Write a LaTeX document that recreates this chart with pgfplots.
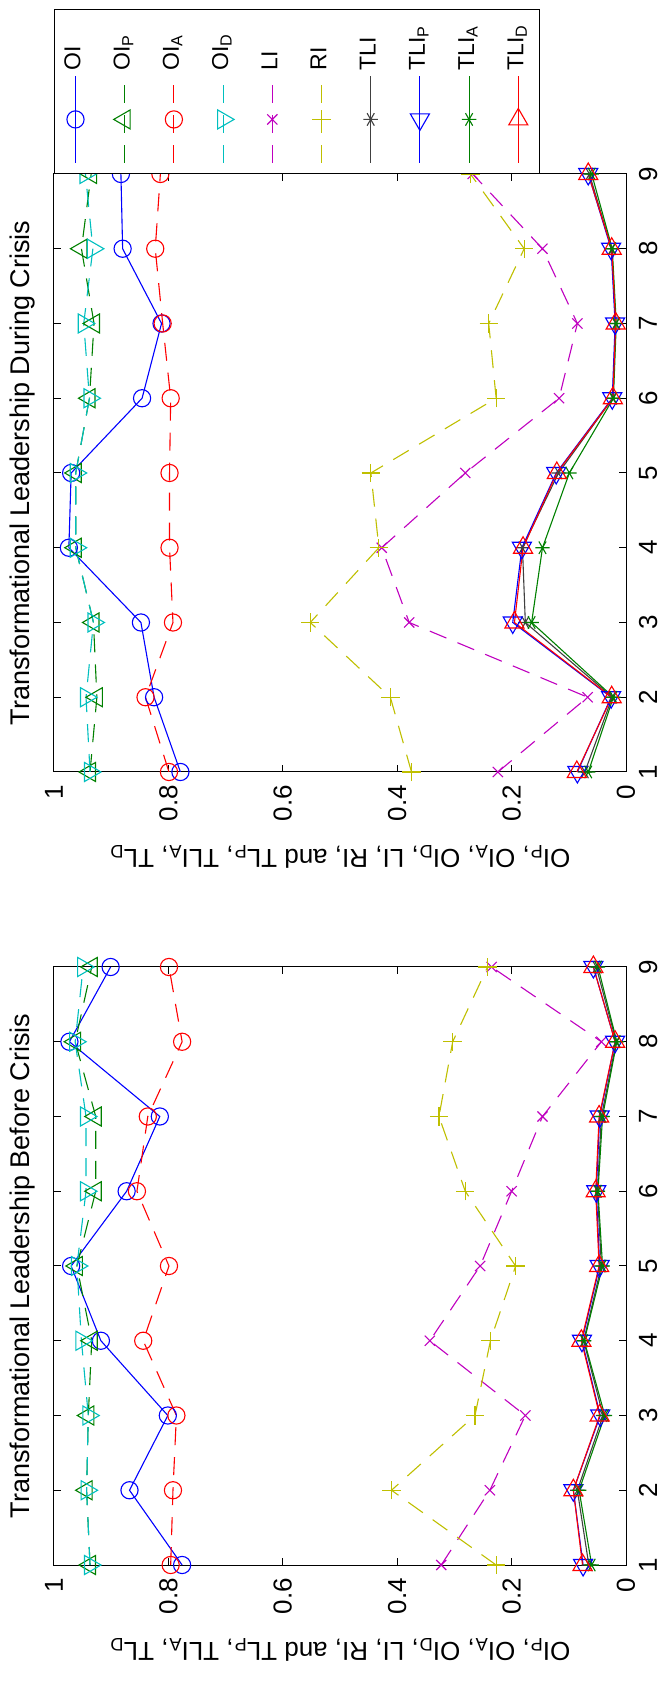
\documentclass[border=0pt]{standalone}
\usepackage{fontspec}
\setmainfont{Liberation Sans}
\usepackage{graphicx}
\usepackage{pgfplots}
\usepackage{pgfplotstable}
\pgfplotsset{compat=1.18}

\definecolor{mBlue}{rgb}{0,0,1}
\definecolor{mGreen}{rgb}{0,0.5,0}
\definecolor{mRed}{rgb}{1,0,0}
\definecolor{mCyan}{rgb}{0,0.75,0.75}
\definecolor{mMag}{rgb}{0.75,0,0.75}
\definecolor{mYel}{rgb}{0.75,0.75,0}
\definecolor{mGray}{rgb}{0.25,0.25,0.25}

% before crisis
\pgfplotstableread{
idx OI    OIP   OIA   OID   LI    RI    TLI   TLIP  TLIA  TLID
1   0.776 0.937 0.796 0.937 0.323 0.227 0.065 0.075 0.060 0.076
2   0.868 0.943 0.792 0.943 0.238 0.410 0.085 0.092 0.082 0.092
3   0.801 0.940 0.786 0.940 0.176 0.264 0.040 0.045 0.037 0.046
4   0.918 0.934 0.844 0.952 0.343 0.237 0.074 0.077 0.073 0.078
5   0.970 0.960 0.799 0.960 0.255 0.193 0.043 0.046 0.041 0.047
6   0.873 0.927 0.855 0.944 0.200 0.281 0.050 0.052 0.049 0.053
7   0.815 0.927 0.836 0.944 0.146 0.327 0.043 0.046 0.041 0.047
8   0.973 0.963 0.776 0.963 0.043 0.303 0.017 0.019 0.016 0.019
9   0.901 0.934 0.799 0.949 0.235 0.242 0.052 0.057 0.049 0.057
}\before

% during crisis
\pgfplotstableread{
idx OI    OIP   OIA   OID   LI    RI    TLI   TLIP  TLIA  TLID
1   0.779 0.937 0.799 0.937 0.224 0.375 0.072 0.085 0.066 0.086
2   0.825 0.925 0.840 0.944 0.067 0.412 0.024 0.026 0.022 0.025
3   0.848 0.931 0.792 0.931 0.379 0.552 0.176 0.198 0.165 0.195
4   0.974 0.962 0.798 0.962 0.427 0.432 0.181 0.182 0.146 0.180
5   0.970 0.962 0.798 0.962 0.281 0.446 0.118 0.122 0.099 0.121
6   0.846 0.938 0.796 0.938 0.117 0.227 0.023 0.024 0.022 0.023
7   0.812 0.930 0.810 0.948 0.085 0.240 0.018 0.019 0.017 0.018
8   0.880 0.952 0.823 0.932 0.146 0.178 0.025 0.026 0.024 0.025
9   0.883 0.935 0.814 0.945 0.268 0.272 0.064 0.066 0.060 0.066
}\during

\pgfplotsset{
  panel/.style={
    scale only axis, width=299pt, height=286pt,
    xmin=1, xmax=9, ymin=0, ymax=1,
    xtick={1,2,3,4,5,6,7,8,9}, xticklabels={1,2,3,4,5,6,7,8,9},
    ytick={0,0.2,0.4,0.6,0.8,1}, yticklabels={0,0.2,0.4,0.6,0.8,1},
    tick align=inside, tick pos=both, major tick length=3.5pt,
    axis line style={black, line width=0.5pt},
    every tick/.style={black, line width=0.5pt},
    tick label style={font=\fontsize{13}{15}\selectfont},
    xticklabel style={yshift=-3pt},
    yticklabel style={xshift=-3pt},
    title style={font=\fontsize{13.5}{16}\selectfont, at={(axis description cs:0.5,1)}, anchor=base, yshift=6pt},
    ylabel style={font=\fontsize{13}{15}\selectfont, at={(axis description cs:-0.142,0.5)}, anchor=center},
    ylabel={OI\textsubscript{P}, OI\textsubscript{A}, OI\textsubscript{D}, LI, RI, and TL\textsubscript{P}, TLI\textsubscript{A}, TL\textsubscript{D}},
    every axis plot/.append style={line width=0.55pt},
    legend image code/.code={\draw[mark repeat=2,mark phase=2] plot coordinates {(0pt,0pt) (21.75pt,0pt) (43.5pt,0pt)};},
  },
  dsh/.style={dash pattern=on 9pt off 6pt},
  sOI/.style={mBlue, solid, mark=o, mark size=4.3pt, mark options={solid}},
  sOIP/.style={mGreen, dsh, mark=triangle, mark size=5.5pt, mark options={solid}},
  sOIA/.style={mRed, dsh, mark=o, mark size=4.3pt, mark options={solid}},
  sOID/.style={mCyan, dsh, mark=triangle, mark size=5.5pt, mark options={solid, rotate=180}},
  sLI/.style={mMag, dsh, mark=x, mark size=3.6pt, mark options={solid}},
  sRI/.style={mYel, dsh, mark=+, mark size=4.6pt, mark options={solid}},
  sTLI/.style={mGray, solid, mark=asterisk, mark size=3.6pt, mark options={solid}},
  sTLIP/.style={mBlue, solid, mark=triangle, mark size=5.5pt, mark options={solid, rotate=90}},
  sTLIA/.style={mGreen, solid, mark=asterisk, mark size=3.6pt, mark options={solid}},
  sTLID/.style={mRed, solid, mark=triangle, mark size=5.5pt, mark options={solid, rotate=-90}},
}

\begin{document}
\rotatebox{90}{%
\begin{tikzpicture}
\path[use as bounding box] (-59.5pt,-18pt) rectangle (782.5pt,313pt);

\begin{axis}[panel, at={(0pt,0pt)}, anchor=south west,
  title={Transformational Leadership Before Crisis}]
\addplot[sOI] table[x=idx, y=OI] {\before};
\addplot[sOIP] table[x=idx, y=OIP] {\before};
\addplot[sOIA] table[x=idx, y=OIA] {\before};
\addplot[sOID] table[x=idx, y=OID] {\before};
\addplot[sLI] table[x=idx, y=LI] {\before};
\addplot[sRI] table[x=idx, y=RI] {\before};
\addplot[sTLI] table[x=idx, y=TLI] {\before};
\addplot[sTLIP] table[x=idx, y=TLIP] {\before};
\addplot[sTLIA] table[x=idx, y=TLIA] {\before};
\addplot[sTLID] table[x=idx, y=TLID] {\before};
\end{axis}

\begin{axis}[panel, at={(396.5pt,0pt)}, anchor=south west,
  title={Transformational Leadership During Crisis},
  legend style={at={(1,1)}, anchor=north west, draw=black, line width=0.5pt,
    font=\fontsize{11.5}{13}\selectfont, inner xsep=5pt, inner ysep=3pt,
    row sep=9.6pt,
    nodes={inner xsep=2.5pt, inner ysep=2pt, text height=8pt, text depth=3pt}},
  legend cell align=left]
\addplot[sOI] table[x=idx, y=OI] {\during};
\addplot[sOIP] table[x=idx, y=OIP] {\during};
\addplot[sOIA] table[x=idx, y=OIA] {\during};
\addplot[sOID] table[x=idx, y=OID] {\during};
\addplot[sLI] table[x=idx, y=LI] {\during};
\addplot[sRI] table[x=idx, y=RI] {\during};
\addplot[sTLI] table[x=idx, y=TLI] {\during};
\addplot[sTLIP] table[x=idx, y=TLIP] {\during};
\addplot[sTLIA] table[x=idx, y=TLIA] {\during};
\addplot[sTLID] table[x=idx, y=TLID] {\during};
\legend{OI, OI\textsubscript{P}, OI\textsubscript{A}, OI\textsubscript{D}, LI, RI, TLI, TLI\textsubscript{P}, TLI\textsubscript{A}, TLI\textsubscript{D}}
\end{axis}
\end{tikzpicture}}
\end{document}
